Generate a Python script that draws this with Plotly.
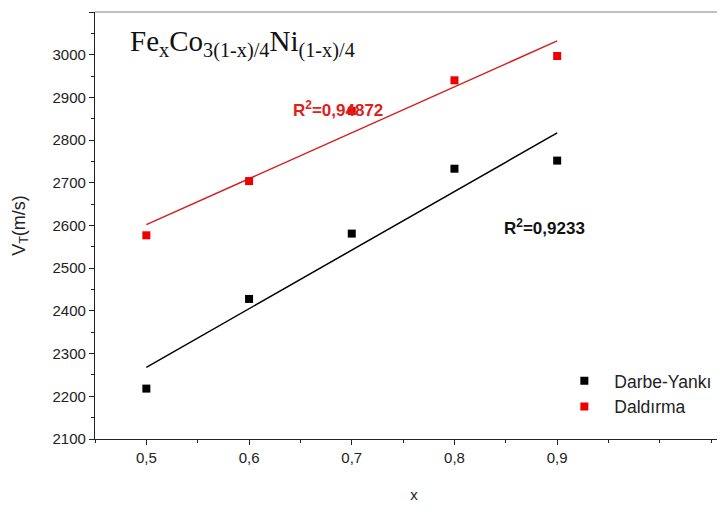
import numpy as np
import plotly.graph_objects as go

x_vals = [0.5, 0.6, 0.7, 0.8, 0.9]
darbe = [2218, 2428, 2581, 2733, 2752]
daldirma = [2577, 2704, 2868, 2940, 2997]
x_ticks = [0.5, 0.6, 0.7, 0.8, 0.9]
x_tick_text = ["0,5", "0,6", "0,7", "0,8", "0,9"]
y_ticks = [2100, 2200, 2300, 2400, 2500, 2600, 2700, 2800, 2900, 3000, 3100]

def fit(xs, ys):
    m, b = np.polyfit(xs, ys, 1)
    xe = [xs[0], xs[-1]]
    return xe, [m * v + b for v in xe]

fig = go.Figure()
fx, fy = fit(x_vals, darbe)
fig.add_trace(go.Scatter(x=fx, y=fy, mode="lines", line=dict(color="black", width=1.5), showlegend=False))
fx2, fy2 = fit(x_vals, daldirma)
fig.add_trace(go.Scatter(x=fx2, y=fy2, mode="lines", line=dict(color="#d42020", width=1.5), showlegend=False))
fig.add_trace(go.Scatter(x=x_vals, y=darbe, mode="markers", name="Darbe-Yankı",
                         marker=dict(symbol="square", size=8, color="black")))
fig.add_trace(go.Scatter(x=x_vals, y=daldirma, mode="markers", name="Daldırma",
                         marker=dict(symbol="square", size=8, color="#ee0000")))

axis_font = dict(family="Liberation Sans, Arial", size=15, color="#222")
fig.update_layout(
    width=725, height=514,
    margin=dict(l=87, r=0, t=4, b=83),
    paper_bgcolor="white", plot_bgcolor="white",
    font=dict(family="Liberation Sans, Arial", color="#222"),
    xaxis=dict(range=[0.45, 1.0712], tickvals=x_ticks, ticktext=x_tick_text, automargin=False,
               showgrid=False, zeroline=False, showline=True, linecolor="#222", linewidth=1.2,
               ticks="outside", ticklen=5, tickcolor="#222", tickfont=axis_font,
               minor=dict(ticks="outside", dtick=0.05, tick0=0.45, ticklen=3, tickcolor="#222"),
               title=dict(text="x", font=dict(size=15, color="#222"), standoff=24)),
    yaxis=dict(range=[2100, 3100], tickvals=y_ticks, automargin=False,
               showgrid=False, zeroline=False, showline=True, linecolor="#222", linewidth=1.2,
               ticks="outside", ticklen=5, tickcolor="#222", tickfont=axis_font,
               minor=dict(ticks="outside", dtick=50, tick0=2100, ticklen=3, tickcolor="#222"),
               title=dict(text="V<sub>T</sub>(m/s)", font=dict(size=18, color="#222"), standoff=22)),
    legend=dict(x=0.72, y=0.178, xanchor="left", yanchor="top", bgcolor="rgba(0,0,0,0)",
                font=dict(size=17.5, color="#222"), itemwidth=50),
    showlegend=True,
)
fig.add_shape(type="line", xref="paper", yref="paper", x0=0, x1=1, y0=1, y1=1,
              line=dict(color="#aaaaaa", width=1.5))
fig.add_annotation(xref="paper", yref="paper", x=0.052, y=0.975, xanchor="left", yanchor="top",
                   text="Fe<sub>x</sub>Co<sub>3(1-x)/4</sub>Ni<sub>(1-x)/4</sub>", showarrow=False,
                   font=dict(family="Liberation Serif, Times New Roman", size=29, color="#111"))
fig.add_annotation(x=0.732, y=2872, xanchor="right", yanchor="middle",
                   text="<b>R<sup>2</sup>=0,94872</b>", showarrow=False,
                   font=dict(size=17, color="#e0201a"))
fig.add_annotation(x=0.929, y=2596, xanchor="right", yanchor="middle",
                   text="<b>R<sup>2</sup>=0,9233</b>", showarrow=False,
                   font=dict(size=17, color="#111"))
fig.write_html("out.html")
